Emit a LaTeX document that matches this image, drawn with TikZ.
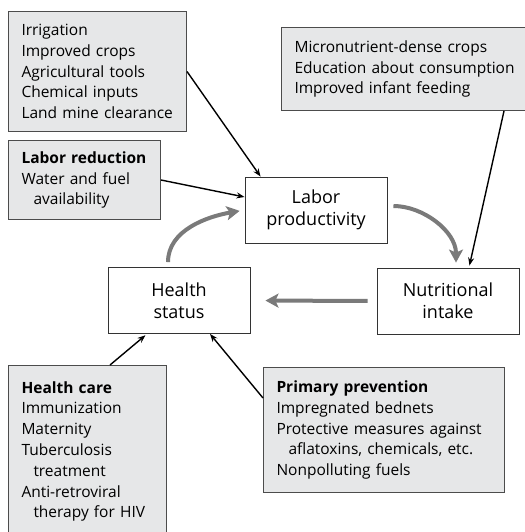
\documentclass[tikz,border=0pt]{standalone}
\usepackage{fontspec}
\setmainfont{Open Sans}
\usetikzlibrary{arrows.meta,positioning,calc}
\definecolor{boxgray}{HTML}{E6E7E8}
\definecolor{loopgray}{HTML}{7A7A7A}
\newcommand{\indt}{\hspace*{12pt}} % indent for wrapped lines
\tikzset{x=1pt, y=1pt, % one unit is one pixel of the layout
        factor/.style={ % white boxes of the cycle
            draw=black!80,
            line width=0.9pt,
            fill=white,
            minimum width=142pt,
            minimum height=66pt,
            align=center,
            font=\fontsize{18}{22}\selectfont},
        intervention/.style={ % gray boxes with the interventions
            draw=black!70,
            line width=1pt,
            fill=boxgray,
            anchor=north west,
            inner xsep=13pt,
            align=left,
            font=\fontsize{15.5}{20.8}\selectfont},
        influence/.style={ % thin black arrows
            draw,
            -{Stealth[length=8pt,width=6pt]},
            line width=1.4pt},
        feedback/.style={ % thick gray arrows of the cycle
            draw=loopgray,
            -{Stealth[length=13pt,width=14pt,inset=3pt]},
            line width=4pt}
        }
\begin{document}
\begin{tikzpicture}
    \useasboundingbox (0,0) rectangle (524,-532);

    \node[intervention, text width=152pt, minimum height=120pt] (tools)      at (8,-11)   {Irrigation\\Improved crops\\Agricultural tools\\Chemical inputs\\\mbox{Land mine clearance}};
    \node[intervention, text width=126pt, minimum height=79pt]  (laborred)   at (8,-140)  {\mbox{\textbf{Labor reduction}}\\Water and fuel\\\indt availability};
    \node[intervention, text width=225pt, minimum height=83pt]  (micro)      at (281,-27) {Micronutrient-dense crops\\Education about consumption\\Improved infant feeding};
    \node[intervention, text width=132pt, minimum height=172pt] (care)       at (8,-365)  {\textbf{Health care}\\Immunization\\Maternity\\Tuberculosis\\\indt treatment\\Anti-retroviral\\\indt \mbox{therapy for HIV}};
    \node[intervention, text width=215pt, minimum height=125pt] (prevention) at (263,-367) {\textbf{Primary prevention}\\Impregnated bednets\\Protective measures against\\\indt aflatoxins, chemicals, etc.\\Nonpolluting fuels};

    \node[factor] (labor)     at (316,-210)   {Labor\\productivity};
    \node[factor] (health)    at (179,-300.5) {Health\\status};
    \node[factor] (nutrition) at (448,-301)   {Nutritional\\intake};

    \draw (tools.east)    edge[influence] ([xshift=16pt]labor.north west);
    \draw (laborred.east) edge[influence] ([yshift=13pt]labor.west);
    \draw ([xshift=223pt]micro.south west) edge[influence, shorten >=2pt] ([xshift=21pt]nutrition.north);
    \draw ([xshift=102pt]care.north west)  edge[influence, shorten >=2pt] ([xshift=-32pt]health.south);
    \draw ([yshift=-31pt]prevention.north west) edge[influence] ([xshift=31pt]health.south);

    \draw ([xshift=-11pt]health.north) edge[feedback, out=90, in=190, shorten <=5pt, shorten >=5pt] (labor.west);
    \draw ([yshift=4pt]labor.east)     edge[feedback, out=0, in=90, shorten <=6pt, shorten >=5pt] ([xshift=8pt]nutrition.north);
    \draw (nutrition.west) edge[feedback, shorten <=9pt, shorten >=15pt] (health.east);
\end{tikzpicture}
\end{document}
